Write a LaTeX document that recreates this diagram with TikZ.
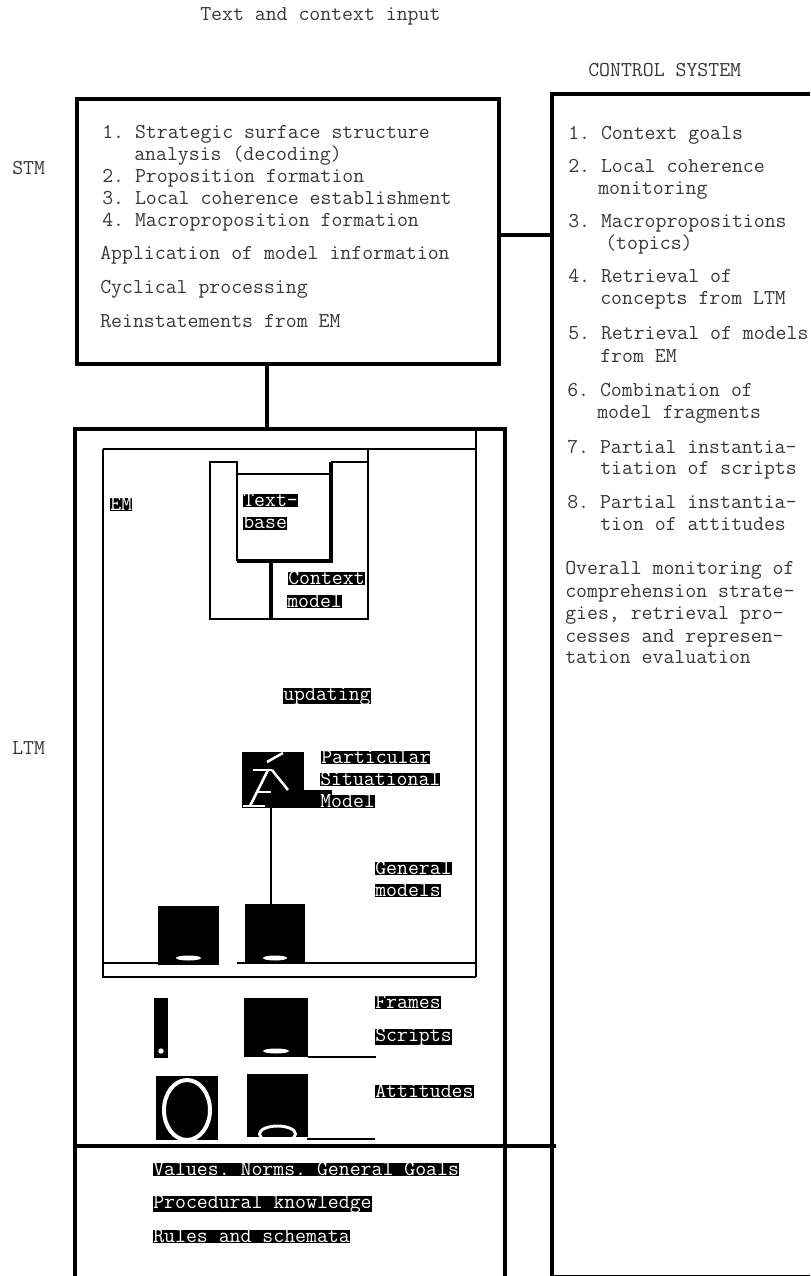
\documentclass[tikz,border=0pt]{standalone}
\frenchspacing
\begin{document}
\frenchspacing
\begin{tikzpicture}[x=0.75pt,y=-0.75pt,
  txt/.style={anchor=base west,inner sep=0pt,font=\ttfamily\fontsize{15.9}{18}\selectfont\frenchspacing,text=black!78},
  invlab/.style={txt,fill=black,text=white,text height=9pt,text depth=0.75pt},
  invdesc/.style={invlab,text depth=3pt},
  heavy/.style={line width=2.5pt,black},
  medium/.style={line width=1.5pt,black},
  thinl/.style={line width=0.9pt,black},
  blk/.style={fill=black,draw=none},
  hole/.style={fill=white,draw=none},
  ring/.style={draw=white,line width=3pt},
  glyph/.style={draw=white,line width=1.9pt}]
\useasboundingbox (0,0) rectangle (810,1276);
% headings
\node[txt] (input) at (200,20.5) {Text and context input};
\node[txt] (control) at (588,77) {CONTROL SYSTEM};
\node[txt] (stmL) at (12,175) {STM};
\node[txt] (ltmL) at (12,754) {LTM};
% STM box
\node[draw,black,line width=2.9pt,rectangle,anchor=north west,inner sep=0pt,minimum width=316.5pt,minimum height=198.75pt] (stm) at (75,97.5) {};
\node[txt] (s1) at (102,139) {1. Strategic surface structure};
\node[txt] (s1b) at (134,161) {analysis (decoding)};
\node[txt] (s2) at (102,183) {2. Proposition formation};
\node[txt] (s3) at (102,205) {3. Local coherence establishment};
\node[txt] (s4) at (102,227) {4. Macroproposition formation};
\node[txt] (s5) at (100,260) {Application of model information};
\node[txt] (s6) at (100,294) {Cyclical processing};
\node[txt] (s7) at (100,328) {Reinstatements from EM};
% Control system
\coordinate (ctl) at (552,94);
\coordinate (ctr) at (810,94);
\coordinate (cbl) at (552,1275.5);
\coordinate (cbr) at (810,1275.5);
\coordinate (link) at (552,235);
\draw[heavy] (ctr) -- (ctl) -- (cbl);
\draw[thinl] (cbl) -- (cbr);
\draw[heavy] (stm.east |- link) -- (link);
\node[txt] (c1) at (568,140) {1. Context goals};
\node[txt] (c2) at (568,173) {2. Local coherence};
\node[txt] (c2b) at (598,195) {monitoring};
\node[txt] (c3) at (568,228) {3. Macropropositions};
\node[txt] (c3b) at (605,250) {(topics)};
\node[txt] (c4) at (568,283) {4. Retrieval of};
\node[txt] (c4b) at (600,305) {concepts from LTM};
\node[txt] (c5) at (568,340) {5. Retrieval of models};
\node[txt] (c5b) at (600,363) {from EM};
\node[txt] (c6) at (567,397) {6. Combination of};
\node[txt] (c6b) at (597,418) {model fragments};
\node[txt] (c7) at (567,453) {7. Partial instantia-};
\node[txt] (c7b) at (600,474) {tiation of scripts};
\node[txt] (c8) at (567,508) {8. Partial instantia-};
\node[txt] (c8b) at (600,530) {tion of attitudes};
\node[txt] (o1) at (565,574) {Overall monitoring of};
\node[txt] (o2) at (565,597) {comprehension strate-};
\node[txt] (o3) at (565,619) {gies, retrieval pro-};
\node[txt] (o4) at (565,642) {cesses and represen-};
\node[txt] (o5) at (565,663) {tation evaluation};
% LTM frame
\coordinate (lbl) at (75,1276);
\coordinate (ltl) at (75,429);
\coordinate (ltr) at (505,429);
\coordinate (lbr) at (505,1276);
\coordinate (ltop) at (267,429);
\draw[heavy] (lbl) -- (ltl) -- (ltr) -- (lbr);
\draw[heavy] (ltop |- stm.south) -- (ltop);
\coordinate (sepL) at (75,1146);
\coordinate (sepR) at (556,1146);
\draw[heavy] (sepL) -- (sepR);
% EM frame
\coordinate (e1) at (103,449);
\coordinate (e2) at (476,429);
\coordinate (e3) at (476,977);
\coordinate (e4) at (103,977);
\draw[medium] (e1) -- (e4) -- (e3);
\draw[thinl] (e1) -- (e1 -| e2);
\draw[medium] (e2) -- (e3);
\coordinate (i1) at (103,963);
\coordinate (i2) at (237,963);
\coordinate (i3) at (476,963);
\draw[thinl] (i1) -- (158,963);
\draw[thinl] (i2) -- (i3);
% context model and text base
\coordinate (m1) at (210,462);
\coordinate (m2) at (237,462);
\coordinate (m3) at (331,462);
\coordinate (m4) at (368,462);
\coordinate (m5) at (368,619);
\coordinate (m6) at (210,619);
\coordinate (m0) at (368,449);
\coordinate (t1) at (237,474);
\coordinate (t2) at (331,474);
\coordinate (t3) at (331,561);
\coordinate (t4) at (237,561);
\coordinate (s0) at (271,561);
\coordinate (s00) at (271,619);
\draw[medium] (t1) -- (m2) -- (m1) -- (m6) -- (m5) -- (m4);
\draw[thinl] (m0) -- (m4);
\draw[medium] (m4) -- (m3);
\draw[thinl] (t1) -- (t2);
\draw[medium] (t1) -- (t4);
\draw[heavy] (m3) -- (t3) -- (t4);
\draw[heavy] (s0) -- (s00);
% white on black labels
\node[invlab] (em) at (110,510) {EM};
\node[invlab] (tb1) at (243,506) {Text-};
\node[invlab] (tb2) at (243,528.5) {base};
\node[invlab] (cm1) at (288,584) {Context};
\node[invlab] (cm2) at (287,607) {model};
\node[invdesc] (up) at (283,700) {updating};
% black block with accent figure
\fill[blk] (242,752) rectangle (304,808);
\fill[blk] (304,790) rectangle (332,808);
\draw[glyph] (267,762) -- (283,753);
\draw[glyph] (253,770) -- (272,770);
\draw[glyph] (250,806) -- (268,770);
\draw[glyph] (272,770) -- (288,790);
\draw[glyph] (258,792) -- (271,792);
\draw[glyph] (243,806) -- (265,806);
\node[invlab] (p1) at (321,763) {Particular};
\node[invlab] (p2) at (320,785) {Situational};
\node[invlab] (p3) at (320,807) {Model};
\coordinate (v1) at (271,808);
\coordinate (v2) at (271,904);
\draw[medium] (v1) -- (v2);
\node[invlab] (g1) at (375,874) {General};
\node[invlab] (g2) at (375,896) {models};
% blocks of general models
\fill[blk] (158,906) rectangle (219,965);
\fill[hole] (188.5,958) ellipse [x radius=12.5,y radius=2.5];
\fill[blk] (245,904) rectangle (305,962);
\fill[hole] (275,958) ellipse [x radius=12,y radius=2.5];
\node[invlab] (f1) at (375,1008) {Frames};
\node[invdesc] (f2) at (375,1041) {Scripts};
\fill[blk] (154,998) rectangle (168,1058);
\fill[hole] (161,1051) circle [radius=2.7];
\fill[blk] (244,998) rectangle (308,1057);
\fill[hole] (276,1051) ellipse [x radius=13,y radius=2.5];
\coordinate (u1) at (308,1057);
\coordinate (u2) at (376,1057);
\draw[thinl] (u1) -- (u2);
\fill[blk] (156,1076) rectangle (218,1140);
\begin{scope}
\clip (156,1076) rectangle (218,1140);
\draw[ring] (187,1110) ellipse [x radius=23,y radius=30];
\end{scope}
\fill[blk] (247,1074) rectangle (308,1137);
\begin{scope}
\clip (247,1074) rectangle (308,1137);
\draw[ring,line width=2.2pt] (277.5,1134) ellipse [x radius=18,y radius=8];
\end{scope}
\coordinate (w1) at (307,1139);
\coordinate (w2) at (375,1139);
\draw[thinl] (w1) -- (w2);
\node[invlab] (a1) at (375,1097) {Attitudes};
\node[invlab] (b1) at (153,1175) {Values. Norms. General Goals};
\node[invdesc] (b2) at (153,1208) {Procedural knowledge};
\node[invlab] (b3) at (153,1242) {Rules and schemata};
\end{tikzpicture}
\end{document}
